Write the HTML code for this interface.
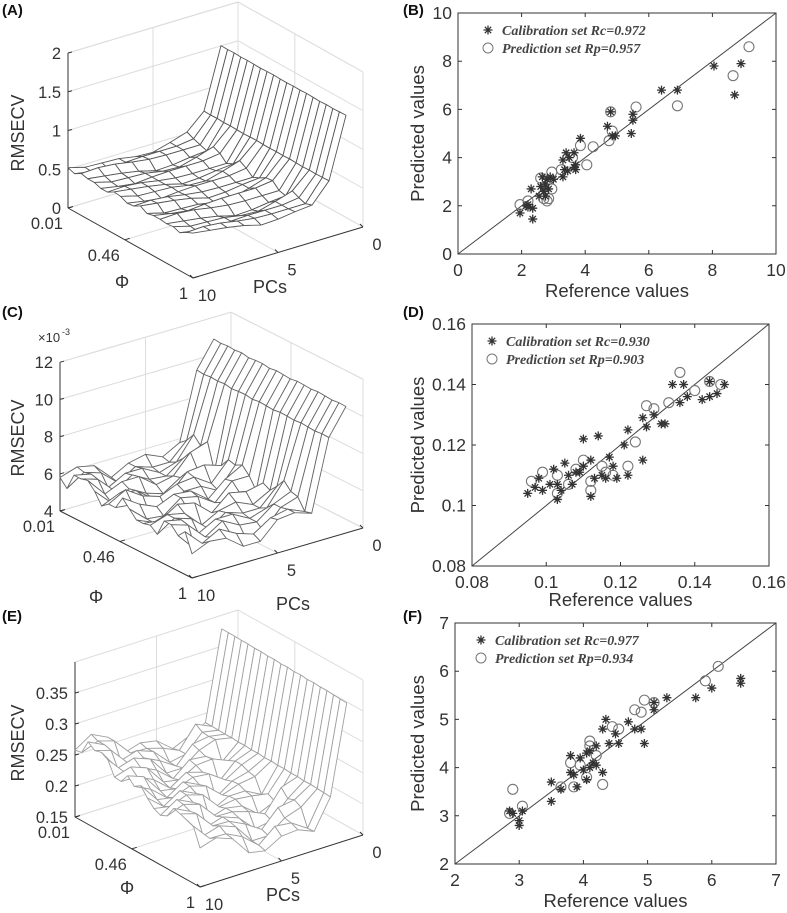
<!DOCTYPE html>
<html><head><meta charset="utf-8"><style>
body{margin:0;background:#fff}
svg{display:block}
text{font-family:"Liberation Sans",sans-serif;fill:#333}
.lg{font-family:"Liberation Serif",serif;font-style:italic;font-weight:bold;font-size:14px;fill:#444}
.pl{font-weight:bold;font-size:15px;fill:#111}
</style></head><body>
<svg id="fig" width="787" height="913" viewBox="0 0 787 913" xmlns="http://www.w3.org/2000/svg"></svg>
<script>
// ---------- DATA ----------
// Panel A surface
const aPcs=[1,2,3,4,5,6,7,8,9,10];
const aBase=[1.5,0.72,0.46,0.42,0.40,0.41,0.43,0.45,0.48,0.50];
const aPhiW=[0.02,0.0,0.03,-0.01,0.02,0.0,-0.02,0.01,0.03,0.0,-0.01,0.02,0.0,0.03,0.01,-0.02,0.02,0.0,0.03,0.05];
const aCross=[0.03,-0.02,0.04,0.0,-0.03,0.02,-0.01,0.05,-0.04,0.01,0.02,-0.03];
// Panel C surface (x1e-3)
const cPcs=[1,2,3,4,5,6,7,8,9,10];
const cBase=[10.8,9.4,5.9,5.5,5.3,5.2,5.3,5.4,5.6,5.8];
const cPhiW=[0.2,-0.1,0.2,0.0,0.3,-0.2,0.1,0.2,-0.2,0.2,0.0,-0.2,0.2,0.1,-0.1,0.2,0.0,-0.2,0.1,0.0];
const cCross=[0.4,-0.3,0.2,-0.5,0.3,0.0,-0.3,0.5,-0.4,0.1,0.3,-0.2,0.4];
// Panel E surface
const ePcs=[1,2,3,4,5,6,7,8,9,10];
const eBase=[0.375,0.232,0.212,0.205,0.205,0.21,0.22,0.23,0.24,0.25];
const ePhiW=[0.02,0.02,0.018,0.015,0.016,0.01,0.012,0.005,0.008,0.0,0.004,-0.004,0.0,-0.008,-0.005,-0.012,-0.01,-0.016,-0.02,-0.025];
const eCross=[0.012,-0.01,0.006,-0.012,0.015,0.0,-0.006,0.01,-0.015,0.006,0.012,-0.012,0.003];
// Panel B
const bCalX=[1.95,2.15,2.2,2.3,2.35,2.35,2.55,2.6,2.65,2.7,2.75,2.8,2.85,2.9,3.0,3.3,3.3,3.35,3.4,3.45,3.5,3.65,3.7,3.65,3.7,3.85,4.7,4.8,4.85,4.95,5.45,5.5,5.5,6.4,6.9,8.05,8.7,8.9,2.2,2.75];
const bCalY=[1.7,2.0,1.95,2.7,1.9,1.45,2.4,2.8,3.2,2.6,2.9,3.1,2.7,3.2,3.1,3.2,3.9,3.5,4.2,3.45,4.0,3.6,3.7,4.2,3.5,4.8,5.3,5.9,4.9,4.9,5.0,5.8,5.55,6.8,6.8,7.8,6.6,7.9,2.05,2.4];
const bPreX=[1.95,2.2,2.6,2.7,2.8,2.85,2.95,2.95,3.25,3.6,3.85,4.05,4.25,4.75,4.8,4.85,5.6,6.9,8.65,9.15];
const bPreY=[2.05,2.2,3.15,2.3,2.2,2.3,2.7,3.4,3.5,4.0,4.5,3.7,4.45,4.7,5.9,5.1,6.1,6.15,7.4,8.6];
const bTicks=[0,2,4,6,8,10];
const bTickLabels=["0","2","4","6","8","10"];
// Panel D
const dCalX=[0.095,0.097,0.098,0.099,0.101,0.102,0.103,0.103,0.104,0.105,0.106,0.107,0.108,0.109,0.110,0.110,0.112,0.112,0.113,0.114,0.115,0.116,0.117,0.118,0.119,0.121,0.122,0.122,0.126,0.126,0.127,0.129,0.131,0.132,0.134,0.136,0.137,0.138,0.142,0.144,0.144,0.146,0.148];
const dCalY=[0.104,0.106,0.109,0.105,0.107,0.112,0.102,0.107,0.105,0.114,0.110,0.107,0.111,0.111,0.113,0.122,0.115,0.103,0.109,0.123,0.110,0.109,0.116,0.113,0.109,0.120,0.125,0.110,0.129,0.115,0.126,0.130,0.127,0.127,0.140,0.134,0.140,0.136,0.135,0.136,0.141,0.137,0.140];
const dPreX=[0.096,0.099,0.103,0.103,0.106,0.108,0.110,0.112,0.112,0.115,0.116,0.118,0.122,0.124,0.127,0.129,0.133,0.136,0.140,0.144,0.147];
const dPreY=[0.108,0.111,0.110,0.104,0.107,0.112,0.115,0.108,0.105,0.113,0.111,0.110,0.113,0.121,0.133,0.132,0.134,0.144,0.138,0.141,0.140];
const dTicks=[0.08,0.10,0.12,0.14,0.16];
const dTickLabels=["0.08","0.1","0.12","0.14","0.16"];
// Panel F
const fCalX=[2.85,2.9,3.0,3.0,3.05,3.5,3.5,3.65,3.8,3.8,3.85,3.9,3.95,4.0,4.05,4.05,4.1,4.1,4.15,4.2,4.2,4.3,4.3,4.35,4.4,4.5,4.55,4.7,4.8,4.9,4.95,5.1,5.1,5.3,5.75,6.0,6.45,6.45];
const fCalY=[3.1,3.05,2.8,2.9,3.1,3.7,3.3,3.55,4.25,3.9,3.85,3.6,4.2,3.95,4.3,3.75,4.0,4.35,4.1,4.05,4.45,3.9,4.8,5.0,4.5,4.7,4.5,4.95,4.8,4.8,4.5,5.35,5.2,5.45,5.45,5.65,5.75,5.85];
const fPreX=[2.85,2.9,3.05,3.65,3.8,3.85,3.95,4.05,4.1,4.1,4.2,4.3,4.45,4.55,4.8,4.9,4.95,5.1,5.9,6.1];
const fPreY=[3.05,3.55,3.2,3.6,4.1,3.6,4.05,3.8,4.45,4.55,4.25,3.65,4.85,4.8,5.2,5.15,5.4,5.35,5.8,6.1];
const fTicks=[2,3,4,5,6,7];
const fTickLabels=["2","3","4","5","6","7"];

const NS="http://www.w3.org/2000/svg";
const svg=document.getElementById('fig');
function mk(tag,attrs,parent){const e=document.createElementNS(NS,tag);for(const k in attrs)e.setAttribute(k,attrs[k]);(parent||svg).appendChild(e);return e;}
function txt(s,x,y,attrs,parent){const t=mk('text',Object.assign({x:x,y:y},attrs||{}),parent);t.textContent=s;return t;}

// ---------- 3D surface ----------
function draw3d(cfg,pcs,base,phiW,cross){
  const g=mk('g',{});
  
  
  const P=(u,v,z)=>[cfg.O[0]+u*cfg.phiV[0]+v*cfg.pcV[0], cfg.O[1]+u*cfg.phiV[1]+v*cfg.pcV[1]-(z-cfg.zmin)*cfg.zpx];
  const L=(a,b,st,w)=>mk('line',{x1:a[0],y1:a[1],x2:b[0],y2:b[1],stroke:st,'stroke-width':w||1},g);
  const gc='#dcdcdc', uT=(0.46-0.01)/0.99;
  cfg.zt.forEach(z=>{L(P(0,0,z),P(0,1,z),gc);L(P(0,1,z),P(1,1,z),gc);});
  L(P(0,1,cfg.zmin),P(0,1,cfg.zmax),gc);L(P(1,1,cfg.zmin),P(1,1,cfg.zmax),gc);
  L(P(0,0.5,cfg.zmin),P(0,0.5,cfg.zmax),gc);L(P(uT,1,cfg.zmin),P(uT,1,cfg.zmax),gc);
  L(P(0,0,cfg.zmax),P(0,1,cfg.zmax),gc);L(P(0,1,cfg.zmax),P(1,1,cfg.zmax),gc);
  L(P(uT,0,cfg.zmin),P(uT,1,cfg.zmin),gc);L(P(0,0.5,cfg.zmin),P(1,0.5,cfg.zmin),gc);
  L(P(0,1,cfg.zmin),P(1,1,cfg.zmin),gc);L(P(0,0,cfg.zmin),P(0,1,cfg.zmin),gc);
  const ac='#333';
  L(P(0,0,cfg.zmin),P(0,0,cfg.zmax),ac);L(P(0,0,cfg.zmin),P(1,0,cfg.zmin),ac);L(P(1,0,cfg.zmin),P(1,1,cfg.zmin),ac);
  cfg.zt.forEach((z,k)=>{const p=P(0,0,z);L(p,[p[0]+4,p[1]-1],ac);
    const t=txt(cfg.zl[k],p[0]-7,p[1]+6,{'text-anchor':'end','font-size':16.5},g);
    
    });
  [[0,'0.01'],[uT,'0.46'],[1,'1']].forEach(([u,s])=>{const p=P(u,0,cfg.zmin);L(p,[p[0]+5,p[1]-1.5],ac);
    const t=txt(s,p[0]-5,p[1]+21,{'text-anchor':'end','font-size':16.5},g);
    
    });
  [[0,'10'],[0.5,'5'],[1,'0']].forEach(([v,s])=>{const p=P(1,v,cfg.zmin);L(p,[p[0]-3,p[1]-3],ac);
    const t=txt(s,p[0]+14,p[1]+23,{'text-anchor':'middle','font-size':16.5},g);
    
    });
  const nP=pcs.length,nF=phiW.length;
  const Z=[];for(let i=0;i<nP;i++){Z.push([]);for(let j=0;j<nF;j++)Z[i].push(base[i]+(i>=2?phiW[j]+cross[(i*7+j*3)%cross.length]:phiW[j]*0.15));}
  const V=i=>(10-pcs[i])/10, U=j=>j/(nF-1);
  const cells=[];for(let i=0;i<nP-1;i++)for(let j=0;j<nF-1;j++)cells.push([i,j,(1-(U(j)+U(j+1))/2)+(V(i)+V(i+1))/2]);
  cells.sort((a,b)=>b[2]-a[2]);
  cells.forEach(([i,j])=>{const pts=[[i,j],[i+1,j],[i+1,j+1],[i,j+1]].map(([a,b])=>P(U(b),V(a),Z[a][b]).join(',')).join(' ');
    const q=mk('polygon',{points:pts,fill:'#fff',stroke:cfg.mesh,'stroke-width':0.9,'stroke-linejoin':'round'},g);
    
    });
  const r=txt('RMSECV',0,0,{'text-anchor':'middle','font-size':18,transform:`translate(${cfg.rm[0]},${cfg.rm[1]}) rotate(-90)`},g);
  
  
  const ph=txt('Φ',cfg.phiL[0],cfg.phiL[1],{'text-anchor':'middle','font-size':18},g);
  
  
  const pc=txt('PCs',cfg.pcL[0],cfg.pcL[1],{'text-anchor':'middle','font-size':18},g);
  
  
}
draw3d({name:'panel-a-surface',O:[68,208],phiV:[125,70],pcV:[170,-51],zmin:0,zmax:2,zpx:77.5,zt:[0,0.5,1,1.5,2],zl:['0','0.5','1','1.5','2'],mesh:'#555',rm:[24,133],phiL:[122,288],pcL:[270,293]},aPcs,aBase,aPhiW,aCross);
draw3d({name:'panel-c-surface',O:[60,511],phiV:[132,67],pcV:[171,-50],zmin:4,zmax:12,zpx:18.6,zt:[4,6,8,10,12],zl:['4','6','8','10','12'],mesh:'#666',rm:[24,438],phiL:[96,603],pcL:[293,610]},cPcs,cBase,cPhiW,cCross);
draw3d({name:'panel-e-surface',O:[75,817],phiV:[125,70],pcV:[163,-52],zmin:0.15,zmax:0.4,zpx:620,zt:[0.15,0.2,0.25,0.3,0.35],zl:['0.15','0.2','0.25','0.3','0.35'],mesh:'#a0a0a0',rm:[24,743],phiL:[127,894],pcL:[283,901]},ePcs,eBase,ePhiW,eCross);
const ex=txt('×10',38,342,{'font-size':13});


const ex2=txt('-3',62,335,{'font-size':9});



// ---------- scatter ----------
function star(g,x,y){const r=4.5,d=r*0.7;const p=`M${x-r},${y}H${x+r}M${x},${y-r}V${y+r}M${x-d},${y-d}L${x+d},${y+d}M${x-d},${y+d}L${x+d},${y-d}`;
  const s=mk('path',{d:p,stroke:'#333','stroke-width':1.3},g);return s;}
function scatter(cfg,calX,calY,preX,preY,ticks,tl,leg){
  const g=mk('g',{});
  
  
  const sx=v=>cfg.x0+(v-cfg.min)/(cfg.max-cfg.min)*(cfg.x1-cfg.x0);
  const sy=v=>cfg.y1-(v-cfg.min)/(cfg.max-cfg.min)*(cfg.y1-cfg.y0);
  const fr=mk('rect',{x:cfg.x0,y:cfg.y0,width:cfg.x1-cfg.x0,height:cfg.y1-cfg.y0,fill:'none',stroke:'#333','stroke-width':1},g);
  
  
  ticks.forEach((t,k)=>{const x=sx(t),y=sy(t);
    mk('path',{d:`M${x},${cfg.y1}v-4M${x},${cfg.y0}v4M${cfg.x0},${y}h4M${cfg.x1},${y}h-4`,stroke:'#333'},g);
    const a=txt(tl[k],x,cfg.y1+22,{'text-anchor':'middle','font-size':17.5},g);
    
    
    const b=txt(tl[k],cfg.x0-6,y+6,{'text-anchor':'end','font-size':17.5},g);
    
    });
  const dl=mk('line',{x1:sx(cfg.min),y1:sy(cfg.min),x2:sx(cfg.max),y2:sy(cfg.max),stroke:'#444','stroke-width':1},g);
  
  
  preX.forEach((v,k)=>{const c=mk('circle',{cx:sx(v),cy:sy(preY[k]),r:5,fill:'none',stroke:'#777','stroke-width':1.1},g);
    
    });
  calX.forEach((v,k)=>{const s=star(g,sx(v),sy(calY[k]));
    
    });
  const lx=cfg.x0+cfg.lx, ly=cfg.y0+17;
  const ls=star(g,lx,ly);
  
  
  const l1=txt(leg[0],lx+14,ly+5,{class:'lg'},g);
  
  
  const lc=mk('circle',{cx:lx,cy:ly+18,r:5,fill:'none',stroke:'#777'},g);
  
  
  const l2=txt(leg[1],lx+14,ly+23,{class:'lg'},g);
  
  
  const yl=txt('Predicted values',0,0,{'text-anchor':'middle','font-size':18.5,transform:`translate(${cfg.yl},${(cfg.y0+cfg.y1)/2}) rotate(-90)`},g);
  
  
  const xl=txt('Reference values',(cfg.x0+cfg.x1)/2,cfg.xl,{'text-anchor':'middle','font-size':18.5},g);
  
  
}
scatter({name:'panel-b-scatter',x0:458,x1:776,y0:13,y1:254,min:0,max:10,lx:30,yl:424,xl:297},bCalX,bCalY,bPreX,bPreY,bTicks,bTickLabels,['Calibration set Rc=0.972','Prediction set Rp=0.957']);
scatter({name:'panel-d-scatter',x0:472,x1:769,y0:324,y1:566,min:0.08,max:0.16,lx:20,yl:424,xl:606},dCalX,dCalY,dPreX,dPreY,dTicks,dTickLabels,['Calibration set Rc=0.930','Prediction set Rp=0.903']);
scatter({name:'panel-f-scatter',x0:455,x1:776,y0:623,y1:864,min:2,max:7,lx:26,yl:424,xl:907},fCalX,fCalY,fPreX,fPreY,fTicks,fTickLabels,['Calibration set Rc=0.977','Prediction set Rp=0.934']);

[['(A)',2,15],['(B)',403,15],['(C)',2,317],['(D)',403,317],['(E)',2,621],['(F)',403,621]].forEach(([s,x,y])=>{
  const t=txt(s,x,y,{class:'pl'});
  
  });
</script>
</body></html>
